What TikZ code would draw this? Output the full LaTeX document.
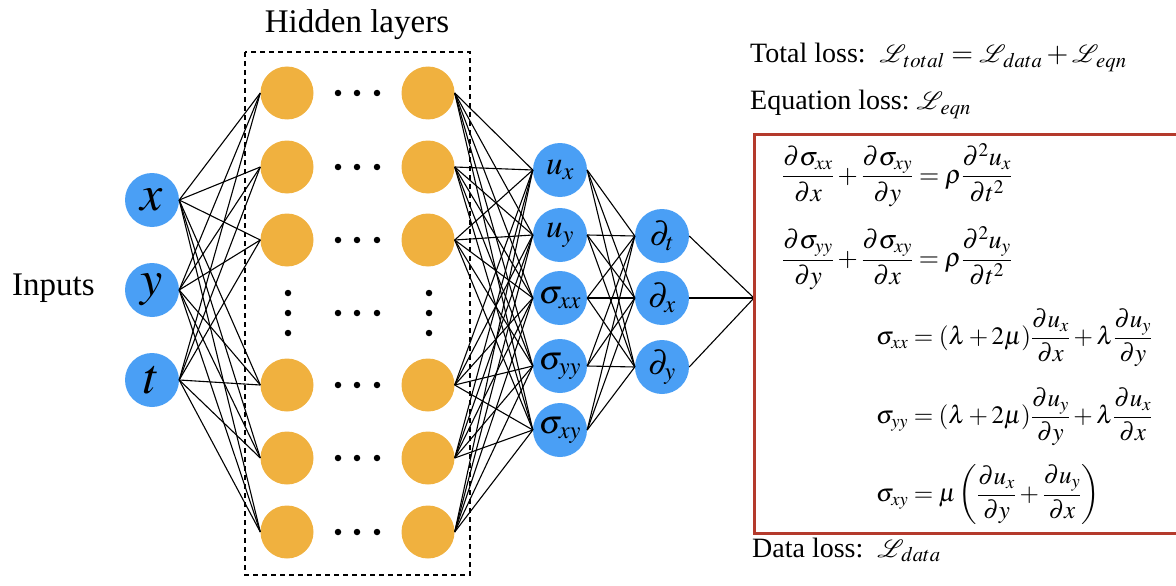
\documentclass[tikz,border=0pt]{standalone}
\usepackage{amsmath}
\usepackage{mathptmx}
\usepackage{mathrsfs}
\usepackage[no-math]{fontspec}
\setmainfont{Liberation Serif}
\usetikzlibrary{positioning}
\definecolor{nnblue}{RGB}{74,159,245}
\definecolor{nnorange}{RGB}{240,177,63}
\definecolor{lossred}{RGB}{180,58,44}

\begin{document}
\begin{tikzpicture}[x=1pt, y=-1pt]
    \tikzstyle{innode} = [shape=circle, fill=nnblue, minimum size=54pt, inner sep=0pt, font=\fontsize{50}{50}\selectfont];
    \tikzstyle{outnode} = [shape=circle, fill=nnblue, minimum size=54pt, inner sep=0pt, font=\fontsize{33}{33}\selectfont];
    \tikzstyle{hidnode} = [shape=circle, fill=nnorange, minimum size=53pt, inner sep=0pt];
    \tikzstyle{dotnode} = [shape=circle, fill=black, minimum size=6.5pt, inner sep=0pt];
    \tikzstyle{wire} = [line width=1.1pt];
    \tikzstyle{eqnode} = [anchor=west, inner sep=0pt, font=\fontsize{26}{30}\selectfont];
    \tikzstyle{lawnode} = [anchor=west, inner sep=0pt, font=\fontsize{25}{29}\selectfont];
    \tikzstyle{losslabel} = [anchor=base west, inner sep=0pt, font=\fontsize{28}{32}\selectfont];

    \useasboundingbox (0,0) rectangle (1176,586);

    % inputs
    \node[innode](X) at (152,200) {$x$};
    \node[innode](Y) at (152,290) {$y$};
    \node[innode](T) at (152,380) {$t$};
    \node[anchor=base west, inner sep=0pt, font=\fontsize{33}{33}\selectfont](inlabel) at (12,295) {Inputs};

    % hidden layers
    \foreach \y [count=\i] in {93,167,240,385,458,532} {
        \node[hidnode](H1\i) at (287,\y) {};
        \node[hidnode](H2\i) at (428,\y) {};
        \foreach \x in {338,357,377}
            \node[dotnode] at (\x,\y) {};
    }
    \foreach \x in {338,357,377}
        \node[dotnode] at (\x,313) {};
    \foreach \y in {293,313,333} {
        \node[dotnode] at (288,\y) {};
        \node[dotnode] at (429,\y) {};
    }
    \draw[line width=2.5pt, dash pattern=on 5pt off 4pt] (245,52) rectangle (470,575);
    \node[anchor=base, inner sep=0pt, font=\fontsize{33}{33}\selectfont](hidlabel) at (357,33) {Hidden layers};

    % outputs and derivatives
    \node[outnode](O1) at (560,170) {$u_x$};
    \node[outnode](O2) at (560,235) {$u_y$};
    \node[outnode](O3) at (560,298) {$\sigma_{xx}$};
    \node[outnode](O4) at (560,366) {$\sigma_{yy}$};
    \node[outnode](O5) at (560,430) {$\sigma_{xy}$};
    \node[outnode](D1) at (662,236) {$\partial_t$};
    \node[outnode](D2) at (662,298) {$\partial_x$};
    \node[outnode](D3) at (662,367) {$\partial_y$};
    \coordinate (conv) at (754,298);

    \foreach \a in {X,Y,T}
        \foreach \b in {1,...,6}
            \draw[wire] (\a.east) -- (H1\b.west);
    \foreach \a in {1,...,6}
        \foreach \b in {1,...,5}
            \draw[wire] (H2\a.east) -- (O\b.west);
    \foreach \a in {1,...,5}
        \foreach \b in {1,2,3}
            \draw[wire] (O\a.east) -- (D\b.west);
    \foreach \a in {1,2,3}
        \draw[wire] (D\a.east) -- (conv);

    % losses
    \node[losslabel](total) at (750,63) {Total loss:\ \ $\mathscr{L}_{\,total}=\mathscr{L}_{\,data}+\mathscr{L}_{\,eqn}$};
    \node[losslabel](eqloss) at (750,110) {Equation loss:\ $\mathscr{L}_{\,eqn}$};
    \node[losslabel](dataloss) at (752,557) {Data loss:\ \ $\mathscr{L}_{\,data}$};
    \draw[lossred, line width=3pt] (754,134) rectangle (1190,533);

    \node[eqnode](E1) at (782,175) {$\displaystyle \frac{\partial\sigma_{xx}}{\partial x}+\frac{\partial\sigma_{xy}}{\partial y}=\rho\frac{\partial^2u_x}{\partial t^2}$};
    \node[eqnode](E2) at (782,258) {$\displaystyle \frac{\partial\sigma_{yy}}{\partial y}+\frac{\partial\sigma_{xy}}{\partial x}=\rho\frac{\partial^2u_y}{\partial t^2}$};
    \node[lawnode](E3) at (876,338) {$\displaystyle \sigma_{xx}=(\lambda+2\mu)\frac{\partial u_x}{\partial x}+\lambda\frac{\partial u_y}{\partial y}$};
    \node[lawnode](E4) at (876,417) {$\displaystyle \sigma_{yy}=(\lambda+2\mu)\frac{\partial u_y}{\partial y}+\lambda\frac{\partial u_x}{\partial x}$};
    \node[lawnode](E5) at (876,495) {$\displaystyle \sigma_{xy}=\mu\left(\frac{\partial u_x}{\partial y}+\frac{\partial u_y}{\partial x}\right)$};
\end{tikzpicture}
\end{document}
